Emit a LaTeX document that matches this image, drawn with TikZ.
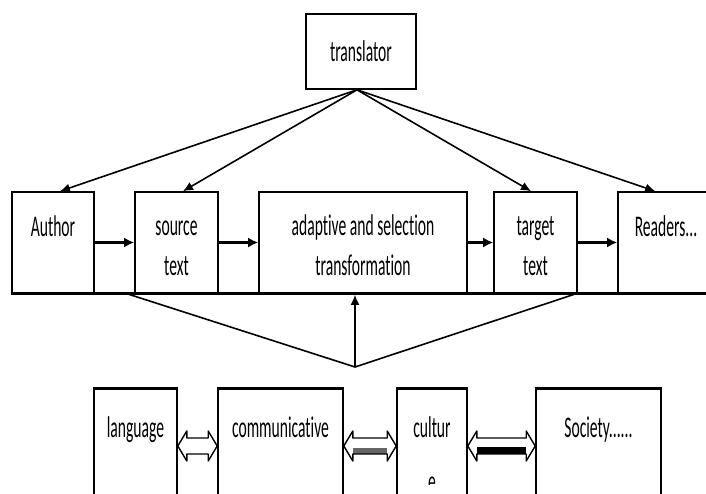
\documentclass[tikz,border=0pt]{standalone}
\usepackage{fontspec}
\setmainfont{Carlito}[FakeStretch=0.52, Ligatures=NoCommon]
\usetikzlibrary{arrows.meta,calc}

\tikzset{
  box/.style={draw, line width=1.6pt, inner sep=0pt},
  lbl/.style={align=center, inner sep=0pt, font=\fontsize{30}{40}\selectfont},
  flow/.style={line width=2.4pt, -{Latex[length=10pt,width=10pt]}},
  feed/.style={line width=1.6pt, -{Latex[length=10pt,width=9pt]}},
  topedge/.style={line width=3pt},
  dbl/.style={draw, line width=1.4pt, line join=round},
}

% hollow two-way arrow between two boxes of the lower row
\newcommand\twoway[4]{%
  \fill[#3] let \p1=(#1.east), \p2=(#2.west) in
    ({\x1+9},39) rectangle ({\x2-9},39+#4);
  \path[dbl] let \p1=(#1.east), \p2=(#2.west) in
    (\x1,47) -- ({\x1+9},62) -- ({\x1+9},55) -- ({\x2-9},55) -- ({\x2-9},62)
    -- (\x2,47) -- ({\x2-9},32) -- ({\x2-9},39) -- ({\x1+9},39) -- ({\x1+9},32) -- cycle;
}

\begin{document}
\begin{tikzpicture}[x=1pt,y=1pt]
  \useasboundingbox (0,0) rectangle (706,493);
  \fill[white] (0,0) rectangle (706,493);

  % translator
  \node[box, lbl, minimum width=110, minimum height=75] (translator) at (361,441.5) {translator};

  % middle row
  \node[box, minimum width=82, minimum height=101] (author) at (53,250.5) {};
  \node[box, minimum width=83, minimum height=101] (source) at (176.5,250.5) {};
  \node[box, minimum width=208, minimum height=101] (adapt) at (363,250.5) {};
  \node[box, minimum width=83, minimum height=101] (target) at (535.5,250.5) {};
  \node[box, minimum width=102, minimum height=101] (readers) at (669,250.5) {};

  \node[lbl, anchor=base] (authortxt) at (53,256) {Author};
  \node[lbl, anchor=base] (sourcetxt) at (176.5,218) {source\\text};
  \node[lbl, anchor=base] (adapttxt) at (363,218) {adaptive and selection\\transformation};
  \node[lbl, anchor=base] (targettxt) at (535.5,218) {target\\text};
  \node[lbl, anchor=base] (readerstxt) at (666,256) {Readers...};

  \draw[line width=3pt] (author.south west) -- (readers.south east);

  \draw[flow] (author) -- (source);
  \draw[flow] (source) -- (adapt);
  \draw[flow] (adapt) -- (target);
  \draw[flow] (target) -- (readers);

  % translator to the chain
  \draw[feed] ([xshift=-4pt]translator.south) -- ([xshift=7pt]author.north);
  \draw[feed] ([xshift=-4pt]translator.south) -- ([xshift=6.5pt]source.north);
  \draw[feed] ([xshift=-4pt]translator.south) -- ([xshift=-4.5pt]target.north);
  \draw[feed] ([xshift=-4pt]translator.south) -- ([xshift=38pt]readers.north west);

  % context feeding the transformation
  \coordinate (meet) at (355,126);
  \draw[line width=1.6pt] ([xshift=-7pt]source.south west) -- (meet) -- ([xshift=-2pt]target.south east);
  \draw[feed, shorten >=1pt] (meet) -- (meet |- adapt.south);

  % lower row
  \node[box, minimum width=83, minimum height=134] (lang) at (135.5,37) {};
  \node[box, minimum width=125, minimum height=134] (comm) at (280.5,37) {};
  \node[box, minimum width=70, minimum height=134] (cult) at (432,37) {};
  \node[box, minimum width=125, minimum height=134] (soc) at (598.5,37) {};
  \foreach \n in {lang,comm,cult,soc}
    \draw[topedge] (\n.north west) -- (\n.north east);

  \node[lbl, anchor=base] (langtxt) at (135.5,56) {language};
  \node[lbl, anchor=base] (commtxt) at (280.5,56) {communicative};
  \begin{scope}
    \clip (397,9) rectangle (467,104);
    \node[lbl, anchor=base] (culttxt) at (432,2) {cultur\\[14pt]e};
  \end{scope}
  \node[lbl, anchor=base] (soctxt) at (598.5,56) {Society......};

  \twoway{lang}{comm}{white}{0}
  \twoway{comm}{cult}{black!60}{6}
  \twoway{cult}{soc}{black}{7}
\end{tikzpicture}
\end{document}
